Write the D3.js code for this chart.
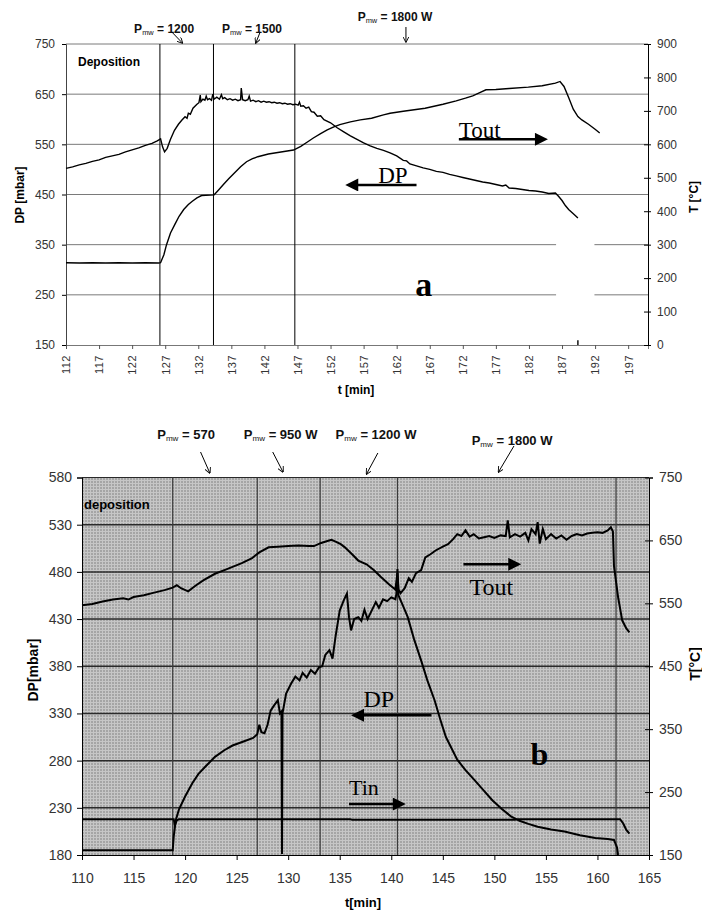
<html>
<head>
<meta charset="utf-8">
<title>Deposition: DP and T vs time</title>
<style>
  body { margin: 0; background: #fff; }
  text { font-family: "Liberation Sans", Arial, sans-serif; }
</style>
</head>
<body>
<script src="https://d3js.org/d3.v7.min.js"></script>
<script>
// ---- chart a (top) ----
var topXTicks = [112, 117, 122, 127, 132, 137, 142, 147, 152, 157, 162, 167, 172, 177, 182, 187, 192, 197];
var topDPTicks = [150, 250, 350, 450, 550, 650, 750];
var topTTicks = [0, 100, 200, 300, 400, 500, 600, 700, 800, 900];
var topMarkers = [126.2, 134.3, 146.6]; // power switch times
// DP [mbar] vs t [min]
var topDP = [[112,502],[113,505],[114,509],[115,512],[116,516],[117,519],[118,524],[119,527],[120,530],[121,535],
  [122,539],[123,543],[124,548],[125,552],[125.8,557],[126.3,561],[126.6,545],[126.9,535],[127.3,542],[127.8,560],
  [128.4,578],[129,590],[129.5,598],[130,605],[130.3,602],[130.5,612],[130.8,610],[131.2,622],[131.5,626],[131.8,630],
  [132.1,633],[132.3,648],[132.4,635],[132.7,640],[133,638],[133.2,646],[133.4,639],[133.7,641],[134,638],[134.2,650],
  [134.4,640],[134.8,644],[135.2,640],[135.5,649],[135.7,641],[136,643],[136.4,639],[136.8,641],[137.2,638],[137.6,640],
  [138,637],[138.4,639],[138.5,662],[138.7,639],[139.1,637],[139.5,639],[139.7,646],[139.9,636],[140.3,638],[140.7,635],
  [141.1,637],[141.5,634],[141.9,636],[142.3,634],[142.7,635],[143.1,633],[143.5,634],[143.9,632],[144.3,633],[144.7,631],
  [145.1,632],[145.5,630],[145.9,631],[146.3,629],[146.7,630],[147.1,628],[147.3,634],[147.5,626],[147.9,627],[148.3,622],
  [148.7,624],[149.1,615],[149.5,614],[150,606],[150.5,607],
  [151,599],[152,593],[153,583],[154,575],[155,567],[156,560],[157,553],[158,547],[159,542],[160,538],[161,533],[162,527],
  [163,518],[163.5,517],[164,511],[165,507],[166,503],[167,500],[168,496],[169,494],[170,490],[171,487],[172,484],
  [173,481],[174,478],[175,475],[176,473],[177,470],[178,467],[178.5,469],[179,463],[180,462],[181,460],[182,458],
  [183,457],[184,455],[185,452],[186,453],[186.5,446],[187,438],[187.5,428],[188,420],[188.5,414],[189,408],[189.4,403]];
// Tout [°C] vs t [min]
var topTout = [[112,246],[114,245],[116,246],[118,245],[120,246],[122,245],[124,246],[126,245],[126.3,246],[126.8,270],
  [127.2,300],[127.8,335],[128.5,362],[129.1,385],[129.8,405],[130.5,420],[131.1,430],[131.8,440],[132.5,447],[134.4,449],
  [135,462],[135.8,480],[136.6,497],[137.5,515],[138.4,533],[139.3,548],[140.2,557],[141,563],[142.6,571],[144.5,577],
  [146.4,583],[147.5,594],[148.5,607],[149.4,619],[150.5,632],[151.5,643],[152.5,652],[153.4,659],[155,667],[156.5,673],
  [158.2,678],[160,688],[161,693],[163,699],[166.3,708],[169,720],[171,730],[172.4,738],[173.5,745],[174.4,753],
  [175.5,763],[177,764],[179,767],[181.9,771],[184,775],[186,783],[186.7,788],[187.3,773],[188,740],[188.7,705],
  [189.4,683],[190,673],[191,660],[192,645],[192.7,634]];
var topSpike = [[189.4,0],[189.4,14]];

// ---- chart b (bottom) ----
var botXTicks = [110, 115, 120, 125, 130, 135, 140, 145, 150, 155, 160, 165];
var botDPTicks = [180, 230, 280, 330, 380, 430, 480, 530, 580];
var botTTicks = [150, 250, 350, 450, 550, 650, 750];
var botMarkers = [118.8, 127.0, 133.1, 140.6, 161.8];
var botTout = [[110,547],[111,549],[112,553],[113,556],[114,558],[114.5,556],[115,560],[116,563],[117,567],[118,571],
  [118.8,575],[119.2,579],[119.6,574],[120.3,569],[121,578],[121.8,587],[122.9,597],[124,604],[125.5,614],[126.5,622],
  [127.2,631],[128.1,639],[129,640],[130,641],[131,642],[132,641],[132.5,641],[133.2,646],[133.8,649],[134.2,651],
  [134.6,648],[135.1,644],[135.5,639],[136.2,628],[136.8,618],[137.6,612],[138.3,603],[139,592],[139.8,580],[140.4,572],
  [140.6,598],[140.7,572],[140.9,566],[141.3,574],[141.7,590],[142,584],[142.4,598],[142.9,603],[143.3,623],[143.8,628],
  [144.3,634],[145,640],[145.5,644],[146,652],[146.4,660],[146.8,657],[147.2,666],[147.6,656],[148,660],[148.5,653],
  [149,655],[149.5,657],[150,654],[150.6,658],[151.1,657],[151.3,682],[151.5,655],[152,660],[152.5,656],[153,662],
  [153.3,650],[153.6,668],[154,660],[154.2,679],[154.4,645],[154.7,668],[155,652],[155.5,660],[156,653],[156.5,658],
  [157,651],[157.5,657],[158,660],[158.5,658],[159,661],[159.5,662],[160,663],[160.5,662],[161,666],[161.3,671],
  [161.5,664],[161.6,610],[162,560],[162.4,523],[162.8,510],[163.1,504]];
var botDP = [[110,185],[118.8,185],[118.9,200],[119.1,217],[119.4,228],[120,242],[120.7,256],[121.3,266],[122,274],
  [122.9,284],[123.8,291],[124.6,296],[125.6,300],[126.6,304],[127,308],[127.2,318],[127.4,310],[127.7,309],[128,318],
  [128.3,333],[128.6,338],[129,344],[129.2,330],[129.35,332],[129.4,181],[129.45,330],[129.8,351],[130.3,362],[130.7,369],
  [131.1,365],[131.4,373],[131.8,368],[132.2,376],[132.6,372],[133,379],[133.3,380],[133.6,392],[134,397],[134.3,388],
  [134.6,412],[135,439],[135.4,450],[135.7,457],[135.9,432],[136.1,418],[136.4,430],[136.8,432],[137.1,428],[137.4,440],
  [137.7,430],[138.1,439],[138.5,448],[138.8,442],[139.2,451],[139.6,449],[140,453],[140.4,451],[140.5,457],[140.6,483],
  [140.7,455],[141.1,445],[141.6,432],[142.2,409],[142.9,386],[143.5,365],[144.2,344],[144.8,322],[145.3,305],[146.4,281],
  [147.2,270],[148.1,259],[149,248],[149.8,238],[150.7,229],[151.6,221],[152.5,216],[153.3,213],[154.2,210],[155.5,207],
  [156.8,205],[158.3,201],[159.8,198],[161,197],[161.6,196],[161.9,188],[162,180]];
var botTin = [[110,207],[118.9,207],[119,197],[119.2,205],[119.4,207],[136,207],[136.2,206],[152,206],[152.3,207],
  [162.2,207],[162.5,200],[162.8,190],[163.1,184]];

var svg = d3.select("body").append("svg").attr("width", 702).attr("height", 914);
var defs = svg.append("defs");
defs.append("marker").attr("id", "bighead").attr("viewBox", "0 0 10 10")
  .attr("refX", 2).attr("refY", 5).attr("markerUnits", "userSpaceOnUse")
  .attr("markerWidth", 15).attr("markerHeight", 13).attr("orient", "auto")
  .append("path").attr("d", "M0,0 L10,5 L0,10 z").attr("fill", "#000");
defs.append("marker").attr("id", "smallhead").attr("viewBox", "0 0 10 10")
  .attr("refX", 9).attr("refY", 5).attr("markerUnits", "userSpaceOnUse")
  .attr("markerWidth", 6).attr("markerHeight", 6).attr("orient", "auto")
  .append("path").attr("d", "M0,0 L10,5 L0,10").attr("fill", "none").attr("stroke", "#000").attr("stroke-width", 1.5);
var pat = defs.append("pattern").attr("id", "dots").attr("patternUnits", "userSpaceOnUse")
  .attr("width", 3).attr("height", 3);
pat.append("rect").attr("width", 3).attr("height", 3).attr("fill", "#a5a5a5");
pat.append("path").attr("d", "M0,0.5H3M0.5,0V3").attr("stroke", "#c6c6c6").attr("stroke-width", 1);

function pmwLabel(g, x, y, rest, size) {
  var t = g.append("text").attr("x", x).attr("y", y).attr("font-size", size).attr("font-weight", "bold").attr("fill", "#111");
  t.append("tspan").text("P");
  t.append("tspan").text("mw").attr("font-size", size * 0.62).attr("font-weight", "normal").attr("dy", 2);
  t.append("tspan").text(" = " + rest).attr("dy", -2);
}
function arrow(g, x1, y1, x2, y2, head, w) {
  g.append("line").attr("x1", x1).attr("y1", y1).attr("x2", x2).attr("y2", y2)
    .attr("stroke", "#000").attr("stroke-width", w).attr("marker-end", "url(#" + head + ")");
}
function serif(g, x, y, txt, size, bold) {
  g.append("text").attr("x", x).attr("y", y).text(txt)
    .style("font-family", "'Liberation Serif', 'Times New Roman', serif")
    .attr("font-size", size).attr("font-weight", bold ? "bold" : "normal");
}

// ================= chart a =================
var xA = d3.scaleLinear().domain([112, 200]).range([66, 648]);
var yAL = d3.scaleLinear().domain([150, 750]).range([345, 44]);
var yAR = d3.scaleLinear().domain([0, 900]).range([345, 44]);
var gA = svg.append("g");

gA.append("g").selectAll("line").data(topDPTicks.slice(1)).enter().append("line")
  .attr("x1", xA(112)).attr("x2", xA(200)).attr("y1", d => yAL(d)).attr("y2", d => yAL(d))
  .attr("stroke", "#7a7a7a").attr("stroke-width", 1);
// blank patch over the gridlines (hidden legend box)
gA.append("rect").attr("x", xA(186.1)).attr("width", xA(191.9) - xA(186.1))
  .attr("y", yAL(380)).attr("height", yAL(175) - yAL(380)).attr("fill", "#fff");
gA.append("g").selectAll("line").data(topMarkers).enter().append("line")
  .attr("x1", d => xA(d)).attr("x2", d => xA(d)).attr("y1", yAL(750)).attr("y2", yAL(150))
  .attr("stroke", "#000").attr("stroke-width", 1);

var axA = gA.append("g").attr("transform", "translate(0," + yAL(150) + ")")
  .call(d3.axisBottom(xA).tickValues(topXTicks).tickSize(4).tickFormat(d3.format("d")));
axA.select(".domain").attr("stroke", "#777");
axA.selectAll(".tick line").attr("stroke", "#555");
axA.selectAll("text").attr("transform", "rotate(-90)").attr("x", -10).attr("y", 0).attr("dy", "0.35em")
  .style("text-anchor", "end").attr("font-size", 11).attr("fill", "#333").attr("letter-spacing", 0.5);
var ayA = gA.append("g").attr("transform", "translate(" + xA(112) + ",0)")
  .call(d3.axisLeft(yAL).tickValues(topDPTicks).tickSize(4).tickPadding(7));
ayA.selectAll("text").attr("font-size", 12).attr("fill", "#333");
ayA.select(".domain").attr("stroke", "#444");
var ayAR = gA.append("g").attr("transform", "translate(" + xA(200) + ",0)")
  .call(d3.axisRight(yAR).tickValues(topTTicks).tickSize(3).tickPadding(6));
ayAR.selectAll(".tick line").attr("x1", -4);
ayAR.selectAll("text").attr("font-size", 12).attr("fill", "#333");

var lineA = (ys) => d3.line().x(d => xA(d[0])).y(d => ys(d[1]));
gA.append("path").datum(topDP).attr("d", lineA(yAL)).attr("fill", "none").attr("stroke", "#000").attr("stroke-width", 1.4);
gA.append("path").datum(topTout).attr("d", lineA(yAR)).attr("fill", "none").attr("stroke", "#000").attr("stroke-width", 1.4);
gA.append("path").datum(topSpike).attr("d", lineA(yAR)).attr("fill", "none").attr("stroke", "#000").attr("stroke-width", 1.4);

gA.append("text").attr("x", 78).attr("y", yAL(707)).text("Deposition").attr("font-size", 12).attr("font-weight", "bold");
pmwLabel(gA, xA(122.3), 33, "1200", 12);
pmwLabel(gA, xA(135.6), 33, "1500", 12);
pmwLabel(gA, xA(156.1), 21, "1800 W", 12);
arrow(gA, xA(128), 32, xA(129.6), 43, "smallhead", 1);
arrow(gA, xA(141.3), 33, xA(140.7), 43, "smallhead", 1);
arrow(gA, xA(163.4), 27, xA(163.4), 42, "smallhead", 1);
serif(gA, xA(171.4), yAL(563), "Tout", 23, false);
arrow(gA, xA(171.4), yAL(560), xA(183.3), yAL(560), "bighead", 2.5);
serif(gA, xA(159.2), yAL(473), "DP", 23, false);
arrow(gA, xA(165), yAL(469), xA(155.8), yAL(469), "bighead", 2.5);
serif(gA, xA(164.8), yAL(248), "a", 34, true);

gA.append("text").attr("transform", "translate(24,195) rotate(-90)").attr("text-anchor", "middle")
  .attr("font-size", 12).attr("font-weight", "bold").text("DP [mbar]");
gA.append("text").attr("transform", "translate(698,197) rotate(-90)").attr("text-anchor", "middle")
  .attr("font-size", 12).attr("font-weight", "bold").text("T [°C]");
gA.append("text").attr("x", 356).attr("y", 394).attr("text-anchor", "middle")
  .attr("font-size", 12).attr("font-weight", "bold").text("t [min]");

// ================= chart b =================
var xB = d3.scaleLinear().domain([110, 165]).range([82, 649]);
var yBL = d3.scaleLinear().domain([180, 580]).range([855, 477.5]);
var yBR = d3.scaleLinear().domain([150, 750]).range([855, 477.5]);
var gB = svg.append("g");

gB.append("rect").attr("x", xB(110)).attr("y", yBL(580)).attr("width", xB(165) - xB(110))
  .attr("height", yBL(180) - yBL(580)).attr("fill", "url(#dots)");
gB.append("g").selectAll("line").data(botDPTicks.slice(1)).enter().append("line")
  .attr("x1", xB(110)).attr("x2", xB(165)).attr("y1", d => yBL(d)).attr("y2", d => yBL(d))
  .attr("stroke", "#2a2a2a").attr("stroke-width", d => d == 580 ? 1 : 1.5);
gB.append("g").selectAll("line").data(botMarkers).enter().append("line")
  .attr("x1", d => xB(d)).attr("x2", d => xB(d)).attr("y1", yBL(580)).attr("y2", yBL(180))
  .attr("stroke", "#3a3a3a").attr("stroke-width", 1.2);

var axB = gB.append("g").attr("transform", "translate(0," + yBL(180) + ")")
  .call(d3.axisBottom(xB).tickValues(botXTicks).tickSize(5).tickPadding(13));
axB.selectAll("text").attr("font-size", 14).attr("fill", "#333");
var ayB = gB.append("g").attr("transform", "translate(" + xB(110) + ",0)")
  .call(d3.axisLeft(yBL).tickValues(botDPTicks).tickSize(5).tickPadding(5));
ayB.selectAll("text").attr("font-size", 14).attr("fill", "#333");
var ayBR = gB.append("g").attr("transform", "translate(" + xB(165) + ",0)")
  .call(d3.axisRight(yBR).tickValues(botTTicks).tickSize(4).tickPadding(6));
ayBR.selectAll(".tick line").attr("x1", -4);
ayBR.selectAll("text").attr("font-size", 14).attr("fill", "#333");

var lineB = (ys) => d3.line().x(d => xB(d[0])).y(d => ys(d[1]));
gB.append("path").datum(botTin).attr("d", lineB(yBR)).attr("fill", "none").attr("stroke", "#000").attr("stroke-width", 2);
gB.append("path").datum(botTout).attr("d", lineB(yBR)).attr("fill", "none").attr("stroke", "#000").attr("stroke-width", 2);
gB.append("path").datum(botDP).attr("d", lineB(yBL)).attr("fill", "none").attr("stroke", "#000").attr("stroke-width", 2);

gB.append("text").attr("x", 84).attr("y", yBL(547)).text("deposition").attr("font-size", 13).attr("font-weight", "bold");
pmwLabel(gB, xB(117.3), 439, "570", 13);
pmwLabel(gB, xB(125.7), 439, "950 W", 13);
pmwLabel(gB, xB(134.6), 439, "1200 W", 13);
pmwLabel(gB, xB(147.8), 445, "1800 W", 13);
arrow(gB, xB(121.5), 452, xB(122.4), 473, "smallhead", 1);
arrow(gB, xB(128.5), 452, xB(129.5), 472, "smallhead", 1);
arrow(gB, xB(138.7), 453, xB(137.6), 474, "smallhead", 1);
arrow(gB, xB(151.9), 446, xB(150.4), 472, "smallhead", 1);
serif(gB, xB(147.6), yBL(455), "Tout", 24, false);
arrow(gB, xB(147), yBL(488), xB(151.6), yBL(488), "bighead", 2.5);
serif(gB, xB(137.3), yBL(337), "DP", 24, false);
arrow(gB, xB(143.9), yBL(328), xB(137.1), yBL(328), "bighead", 2.5);
serif(gB, xB(135.9), yBL(243.5), "Tin", 22, false);
arrow(gB, xB(135.9), yBL(234), xB(140.4), yBL(234), "bighead", 2.5);
serif(gB, xB(153.5), yBL(275), "b", 32, true);

gB.append("text").attr("transform", "translate(38,670) rotate(-90)").attr("text-anchor", "middle")
  .attr("font-size", 14).attr("font-weight", "bold").text("DP[mbar]");
gB.append("text").attr("transform", "translate(700,664) rotate(-90)").attr("text-anchor", "middle")
  .attr("font-size", 14).attr("font-weight", "bold").text("T[°C]");
gB.append("text").attr("x", 363).attr("y", 907).attr("text-anchor", "middle")
  .attr("font-size", 13).attr("font-weight", "bold").text("t[min]");
</script>
</body>
</html>
